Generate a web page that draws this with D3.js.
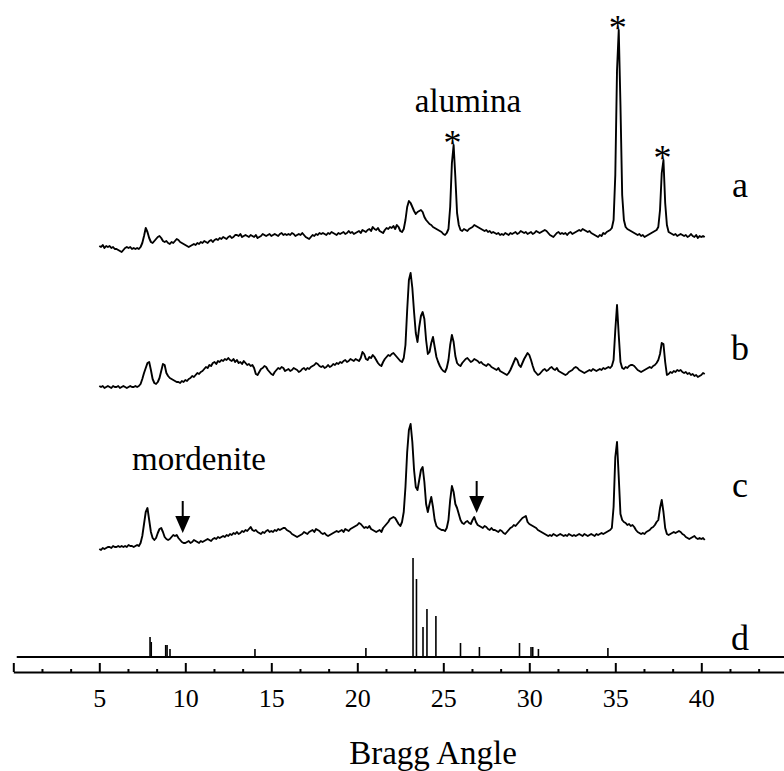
<!DOCTYPE html>
<html>
<head>
<meta charset="utf-8">
<script src="https://cdn.jsdelivr.net/npm/d3@7"></script>
<style>
  body { margin: 0; background: #fff; }
  text { font-family: "Liberation Serif", "Times New Roman", serif; fill: #000; }
</style>
</head>
<body>
<div id="chart"></div>
<script>
// XRD patterns, 2-theta from 5.0 to 40.2 deg, step 0.1
var startAngle = 5.0;
var stepAngle = 0.1;

var traceA = [
  9,8,10,7,9,8,9,7,8,6, 6,5,4,3,5,7,8,7,8,6, 7,6,7,6,8,12,19,27,23,17,
  13,12,14,16,18,19,17,14,13,14, 12,11,13,12,14,16,15,13,12,11, 10,9,8,9,10,11,10,12,11,13,
  12,14,13,12,14,15,13,15,16,15, 17,16,18,17,16,18,19,17,18,20, 20,19,21,18,19,20,19,18,20,19,
  18,20,17,18,19,21,20,19,20,21, 19,20,21,20,19,21,22,20,21,20, 21,20,22,21,19,20,21,20,22,20,
  18,17,16,18,20,19,21,20,22,21, 22,21,20,22,21,23,22,21,20,22, 21,22,23,21,22,24,22,23,21,22,
  23,24,22,25,24,23,25,26,24,28, 26,25,27,24,23,22,25,27,26,28, 27,29,26,30,28,24,23,26,35,48,
  54,52,48,44,41,43,44,45,43,38, 35,33,31,30,28,27,26,25,24,23, 21,20,22,26,48,92,110,78,42,30,
  25,24,26,25,24,26,27,28,30,29, 28,27,26,25,24,25,23,24,22,23, 22,21,22,20,21,20,22,21,20,22,
  21,22,23,21,22,24,23,22,23,21, 22,23,21,22,24,23,22,23,24,25, 24,22,20,19,18,20,22,23,21,22,
  21,22,20,22,23,21,22,23,24,25, 24,26,25,24,23,24,22,21,20,19, 18,20,19,22,21,23,24,25,27,35,
  80,185,225,150,60,35,28,26,25,24, 23,22,21,20,21,19,20,18,19,20, 21,22,23,24,25,28,45,82,95,52,
  30,23,22,21,20,21,19,20,21,20, 19,20,18,19,21,19,18,20,17,19, 18,19,18
];

var traceB = [
  4,3,4,2,3,4,3,2,4,3, 3,4,2,3,4,3,2,3,4,3, 3,4,3,4,6,11,17,22,27,28,
  20,11,7,6,8,12,19,26,25,17, 14,12,11,10,9,8,8,7,9,8, 10,9,11,12,14,13,15,17,16,18,
  19,21,23,22,25,24,27,28,26,29, 28,30,29,31,30,32,30,29,31,28, 30,27,28,26,29,27,25,26,24,25,
  22,16,15,18,21,22,24,23,20,18, 16,15,18,20,22,21,23,22,19,20, 21,19,20,22,21,20,18,19,21,22,
  20,22,21,23,24,25,27,26,24,23, 24,22,23,25,23,24,26,25,27,26, 28,27,29,30,28,29,31,30,29,31,
  30,29,32,38,36,31,30,33,32,35, 33,30,27,25,24,28,31,33,35,34, 36,37,35,33,31,29,28,32,45,80,
  110,117,102,78,57,48,63,74,78,71, 50,36,38,47,53,43,33,28,24,21, 19,18,22,30,45,55,48,34,27,25,
  24,27,29,31,32,30,28,29,31,30, 29,27,28,26,25,24,26,25,23,22, 21,20,22,19,18,17,16,15,17,20,
  24,28,32,30,25,23,27,31,34,37, 35,30,24,19,17,15,16,18,20,21, 19,20,22,23,21,20,22,19,18,17,
  16,15,16,18,19,20,22,23,22,20, 19,18,17,18,19,20,19,21,20,19, 20,21,20,22,21,22,23,22,24,30,
  60,85,55,28,22,21,23,22,24,25, 25,24,22,20,19,18,19,20,21,22, 23,22,24,25,27,30,36,47,46,28,
  15,16,18,17,19,18,20,19,20,18, 17,18,16,17,15,16,14,15,13,14, 15,17,16
];

var traceC = [
  3,2,4,3,4,5,5,4,6,5, 5,6,5,6,5,6,5,7,6,6, 5,6,7,6,9,16,28,40,44,32,
  20,14,12,14,19,23,24,20,15,13, 12,13,15,17,16,17,14,12,10,9, 9,10,11,9,10,12,11,10,9,11,
  10,11,12,13,12,11,13,14,13,15, 14,15,16,15,17,16,18,17,19,18, 20,18,19,21,20,22,21,23,25,22,
  21,22,20,19,18,20,19,21,22,20, 21,20,22,21,23,22,23,24,24,22, 21,20,18,17,16,15,16,17,18,20,
  19,18,20,21,22,20,23,22,21,19, 18,19,17,16,17,18,19,20,21,20, 21,22,20,23,22,21,23,24,25,26,
  27,29,28,26,24,25,24,26,23,22, 21,20,21,22,20,24,26,28,30,33, 34,35,34,31,28,26,30,40,65,100,
  122,128,110,82,65,62,72,82,85,70, 48,40,48,55,45,32,26,24,23,22, 22,21,24,32,52,66,60,48,44,38,
  32,29,28,30,31,29,28,32,35,30, 27,26,25,24,26,25,23,22,24,22, 22,21,20,22,21,19,18,20,22,24,
  25,27,26,28,30,32,34,35,36,30, 28,27,26,25,24,22,21,20,19,18, 17,16,17,16,18,17,16,17,18,17,
  16,17,16,18,17,16,17,16,17,18, 17,16,18,17,16,17,18,17,16,18, 17,18,19,18,19,20,21,22,24,45,
  95,110,75,38,32,30,29,27,28,26, 27,25,22,20,19,18,19,18,20,21, 22,24,25,27,30,32,44,52,40,24,
  18,17,18,19,20,19,20,21,20,18, 17,15,14,13,14,15,16,14,13,14, 13,14,12
];

// reference pattern (d): line positions and relative intensities
var refAngle = [7.95, 8.02, 8.86, 8.94, 9.11, 14.05, 20.5, 23.24, 23.44, 23.82, 24.05, 24.57, 26.0, 27.1, 29.43, 30.1, 30.2, 30.53, 34.57];
var refIntensity = [20, 15, 12, 12, 8, 8, 9, 99, 78, 30, 48, 41, 14, 10, 14, 10, 10, 8, 9];

var traceNames = ["a", "b", "c", "d"];
var traceOffsets = [402, 267, 105, 0];

var aluminaPeaks = [25.6, 35.2, 37.8];
var mordeniteMarks = [9.85, 26.94];

var majorTicks = [0, 5, 10, 15, 20, 25, 30, 35, 40, 45];

var svgWidth = 784;
var svgHeight = 771;

var svg = d3.select("#chart")
  .append("svg")
  .attr("width", svgWidth)
  .attr("height", svgHeight);

// scales: 1 count = 1 px
var x = d3.scaleLinear().domain([0, 45]).range([13.3, 787.3]);
var y = d3.scaleLinear().domain([0, 640]).range([657, 17]);
var axisY = 672;

function toPoints(arr) {
  return arr.map(function(v, i) {
    return { t: startAngle + i * stepAngle, v: v };
  });
}

var traces = [traceA, traceB, traceC];

traces.forEach(function(tr, k) {
  var off = traceOffsets[k];
  var line = d3.line()
    .x(function(d) { return x(d.t); })
    .y(function(d) { return y(d.v + off); });
  svg.append("path")
    .datum(toPoints(tr))
    .attr("d", line)
    .attr("fill", "none")
    .attr("stroke", "#000")
    .attr("stroke-width", 1.9)
    .attr("stroke-linejoin", "round");
});

// d: stick pattern
svg.append("line")
  .attr("x1", x(0.2)).attr("x2", x(45))
  .attr("y1", y(0)).attr("y2", y(0))
  .attr("stroke", "#000").attr("stroke-width", 2);

svg.selectAll(".stick")
  .data(refAngle)
  .enter()
  .append("line")
  .attr("class", "stick")
  .attr("x1", function(d) { return x(d); })
  .attr("x2", function(d) { return x(d); })
  .attr("y1", y(0))
  .attr("y2", function(d, i) { return y(refIntensity[i]); })
  .attr("stroke", "#000")
  .attr("stroke-width", 1.6);

// x axis, ticks pointing up
var minorTicks = d3.range(1, 27).map(function(i) { return i * 5 / 3; })
  .filter(function(v) { return Math.abs(v / 5 - Math.round(v / 5)) > 1e-6; });

var minorAxis = svg.append("g")
  .attr("transform", "translate(0," + axisY + ")")
  .call(d3.axisBottom(x).tickValues(minorTicks).tickSizeInner(-3).tickSizeOuter(0).tickFormat(""));
minorAxis.selectAll("line").attr("stroke-width", 2);
minorAxis.select(".domain").attr("stroke-width", 2);

var majorAxis = svg.append("g")
  .attr("transform", "translate(0," + axisY + ")")
  .call(d3.axisBottom(x).tickValues(majorTicks).tickSizeInner(-9).tickSizeOuter(0).tickPadding(17)
    .tickFormat(function(d) { return (d === 0 || d === 45) ? "" : d; }));
majorAxis.select(".domain").remove();
majorAxis.selectAll("line").attr("stroke-width", 2);
majorAxis.selectAll("text")
  .style("font-family", "'Liberation Serif', 'Times New Roman', serif")
  .style("font-size", "26px");

svg.append("text")
  .attr("x", 433)
  .attr("y", 764)
  .attr("text-anchor", "middle")
  .style("font-size", "33px")
  .text("Bragg Angle");

// trace letters
var letterY = [y(traceOffsets[0] + 58), y(traceOffsets[1] + 30), y(traceOffsets[2] + 55), y(traceOffsets[3] + 7)];
traceNames.forEach(function(n, k) {
  svg.append("text")
    .attr("x", 740)
    .attr("y", letterY[k])
    .attr("text-anchor", "middle")
    .style("font-size", "36px")
    .text(n);
});

// alumina stars
aluminaPeaks.forEach(function(p) {
  var idx = Math.round((p - startAngle) / stepAngle);
  svg.append("text")
    .attr("x", x(p) - 1)
    .attr("y", y(traceA[idx] + traceOffsets[0]) + 10)
    .attr("text-anchor", "middle")
    .style("font-size", "36px")
    .text("*");
});

svg.append("text")
  .attr("x", 468)
  .attr("y", 112)
  .attr("text-anchor", "middle")
  .style("font-size", "33px")
  .text("alumina");

svg.append("text")
  .attr("x", 199)
  .attr("y", 470)
  .attr("text-anchor", "middle")
  .style("font-size", "33px")
  .text("mordenite");

// mordenite arrows
mordeniteMarks.forEach(function(p) {
  var idx = Math.round((p - startAngle) / stepAngle);
  var tipY = y(traceC[idx] + traceOffsets[2]) - 9;
  var cx = x(p);
  svg.append("line")
    .attr("x1", cx).attr("x2", cx)
    .attr("y1", tipY - 32).attr("y2", tipY - 14)
    .attr("stroke", "#000").attr("stroke-width", 2);
  svg.append("path")
    .attr("d", "M" + (cx - 7.5) + "," + (tipY - 17) + "L" + (cx + 7.5) + "," + (tipY - 17) + "L" + cx + "," + tipY + "Z")
    .attr("fill", "#000");
});
</script>
</body>
</html>
